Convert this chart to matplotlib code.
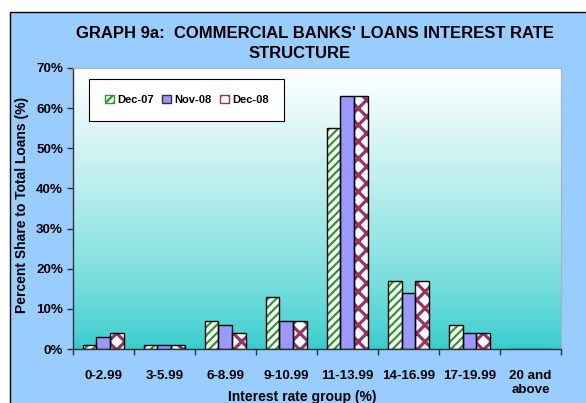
import matplotlib.pyplot as plt
import numpy as np
from matplotlib.patches import Patch, Rectangle
from matplotlib.colors import LinearSegmentedColormap

categories = ['0-2.99', '3-5.99', '6-8.99', '9-10.99', '11-13.99',
              '14-16.99', '17-19.99', '20 and\nabove']
dec07 = [1, 1, 7, 13, 55, 17, 6, 0]
nov08 = [3, 1, 6, 7, 63, 14, 4, 0]
dec08 = [4, 1, 4, 7, 63, 17, 4, 0]
series_names = ['Dec-07', 'Nov-08', 'Dec-08']

plt.rcParams['font.family'] = ['Liberation Sans', 'DejaVu Sans']
plt.rcParams['font.weight'] = 'bold'
plt.rcParams['hatch.linewidth'] = 1.6

W, H = 586, 403
fig = plt.figure(figsize=(W / 100, H / 100), dpi=100)
fig.patch.set_facecolor('white')

# light blue chart area with black frame on left/top
fig.patches.append(Rectangle((10 / W, -0.1), 1.0, (H - 12) / H + 0.1,
                             transform=fig.transFigure, facecolor='#99CCFF',
                             edgecolor='black', lw=1.0, zorder=-5))

ax = fig.add_axes([72.7 / W, (H - 349) / H, (561 - 72.7) / W, (349 - 68) / H])
ax.set_facecolor('none')

# gradient plot area (white top -> turquoise bottom)
cmap = LinearSegmentedColormap.from_list('bg', ['#33CCCC', '#FFFFFF'])
grad = (np.linspace(0, 1, 256) ** 0.75).reshape(-1, 1)
ax.imshow(grad, cmap=cmap, origin='lower', extent=[0, 1, 0, 1],
          transform=ax.transAxes, aspect='auto', zorder=0, vmin=0, vmax=1)

x = np.arange(len(categories))
bw = 0.226
green = '#2A9A2A'
blue = '#9999FF'
maroon = '#993366'

# hatch layers, then black outlines on top
ax.bar(x - bw, dec07, bw, color='white', edgecolor=green, hatch='////',
       linewidth=0, zorder=2)
ax.bar(x, nov08, bw, color=blue, linewidth=0, zorder=2)
b08 = ax.bar(x + bw, dec08, bw, color='white', edgecolor=maroon, hatch='xx',
             linewidth=0, zorder=2)
for p in b08:
    if hasattr(p, 'set_hatch_linewidth'):
        p.set_hatch_linewidth(2.3)
for off, vals in zip([-bw, 0, bw], [dec07, nov08, dec08]):
    ax.bar(x + off, vals, bw, fill=False, edgecolor='black', linewidth=1.0,
           zorder=3)

ax.set_xlim(-0.5, len(categories) - 0.5)
ax.set_ylim(0, 70)
ax.set_yticks(np.arange(0, 71, 10))
ax.set_yticklabels([f'{v}%' for v in range(0, 71, 10)], fontsize=9.6)
ax.set_xticks(x)
ax.set_xticklabels(categories, fontsize=9.6)
ax.set_xticks(np.arange(-0.5, len(categories)), minor=True)
ax.tick_params(axis='x', which='major', length=0, pad=15)
ax.tick_params(axis='x', which='minor', length=4, width=1, color='#333333')
ax.tick_params(axis='y', length=4, width=1, color='#333333', pad=3)

for s in ['left', 'bottom']:
    ax.spines[s].set_color('#333333')
    ax.spines[s].set_linewidth(1.0)
for s in ['top', 'right']:
    ax.spines[s].set_color('#B0B0B0')
    ax.spines[s].set_linewidth(0.8)

handles = [Patch(facecolor='white', edgecolor=green, hatch='////'),
           Patch(facecolor=blue, edgecolor='#333333'),
           Patch(facecolor='white', edgecolor=maroon, hatch='xx')]
leg = ax.legend(handles, series_names, ncol=3, loc='center',
                bbox_to_anchor=(0.023, 0.808, 0.422, 0.156), mode='expand',
                fontsize=8, frameon=True, fancybox=False, framealpha=1,
                edgecolor='black', handlelength=0.8, handleheight=0.8,
                handletextpad=0.3, columnspacing=1.0, borderpad=1.4)
leg.get_frame().set_linewidth(0.8)
leg.set_zorder(5)

fig.text(315 / W, 1 - 33 / H, "GRAPH 9a:  COMMERCIAL BANKS' LOANS INTEREST RATE",
         ha='center', va='center', fontsize=12, fontweight='bold')
fig.text(300 / W, 1 - 54 / H, 'STRUCTURE', ha='center', va='center',
         fontsize=12, fontweight='bold')
fig.text(22.5 / W, 1 - 205 / H, 'Percent Share to Total Loans (%)',
         rotation=90, ha='center', va='center', fontsize=10,
         fontweight='bold')
fig.text(228 / W, 1 - 397 / H, 'Interest rate group (%)', ha='left',
         va='center', fontsize=10, fontweight='bold')

fig.savefig('out.png', dpi=100)
